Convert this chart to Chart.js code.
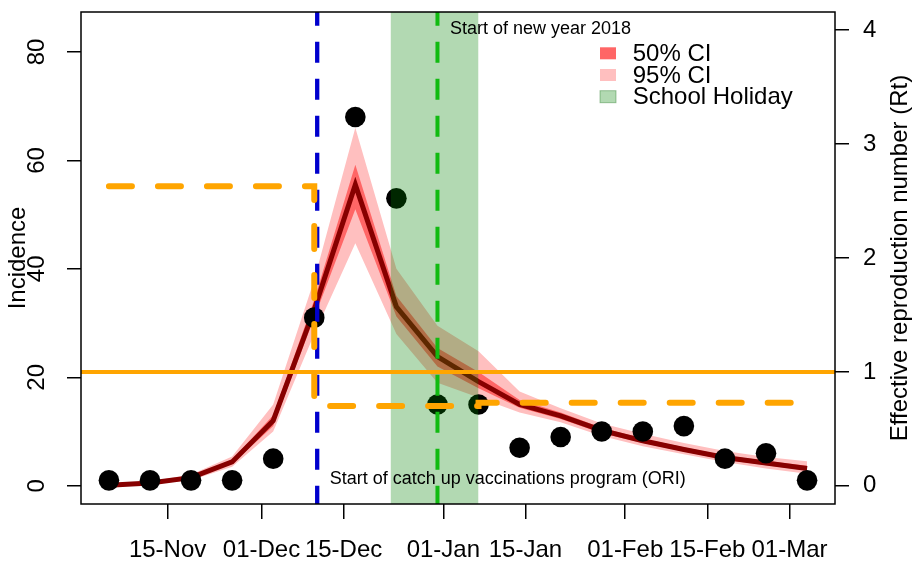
<!DOCTYPE html>
<html>
<head>
<meta charset="utf-8">
<script src="https://cdn.jsdelivr.net/npm/chart.js@4"></script>
<style>body{margin:0;background:#fff}</style>
</head>
<body>
<canvas id="rtChart" width="912" height="561"></canvas>
<script>
// weekly observed cases and model fit
const weekDates = ['2017-11-05', '2017-11-12', '2017-11-19', '2017-11-26', '2017-12-03', '2017-12-10',
  '2017-12-17', '2017-12-24', '2017-12-31', '2018-01-07', '2018-01-14', '2018-01-21',
  '2018-01-28', '2018-02-04', '2018-02-11', '2018-02-18', '2018-02-25', '2018-03-04'];
const incidence = [1, 1, 1, 1, 5, 31, 68, 53, 15, 15, 7, 9, 10, 10, 11, 5, 6, 1];
const modelMean = [0.1, 0.5, 1.5, 4.4, 12, 32.5, 55.5, 33, 23.8, 19.2, 15.0, 12.9, 10.2, 8.3, 6.7, 5.2, 4.2, 3.2];
const ci50Low  = [0.05, 0.4, 1.3, 4.0, 11, 31, 51, 31.2, 22, 18, 14.4, 12.3, 9.7, 7.9, 6.3, 4.8, 3.8, 2.8];
const ci50High = [0.15, 0.6, 1.7, 4.8, 13, 34.3, 59.2, 35, 25.4, 21, 15.8, 13.5, 10.7, 8.7, 7.1, 5.6, 4.6, 3.7];
const ci95Low  = [0.0, 0.3, 1.0, 3.5, 10, 28, 44.7, 28, 19, 16.3, 13.5, 11.7, 9.2, 7.3, 5.8, 4.4, 3.2, 2.2];
const ci95High = [0.3, 0.8, 2.1, 5.4, 15, 38, 66, 40, 29.5, 24.8, 17.4, 14.3, 11.5, 9.6, 7.9, 6.4, 5.3, 4.5];

// effective reproduction number (step changes)
const rtDates = ['2017-11-05', '2017-12-10', '2018-01-07', '2018-03-04'];
const rtValues = [2.63, 0.70, 0.73, 0.73];

const oriStart = '2017-12-10T12:00:00Z';
const newYear = '2017-12-31';
const holidayStart = '2017-12-23';
const holidayEnd = '2018-01-07';

const tickDates = ['2017-11-15', '2017-12-01', '2017-12-15', '2018-01-01', '2018-01-15', '2018-02-01', '2018-02-15', '2018-03-01'];
const tickLabels = ['15-Nov', '01-Dec', '15-Dec', '01-Jan', '15-Jan', '01-Feb', '15-Feb', '01-Mar'];
const incidenceTicks = [0, 20, 40, 60, 80];
const rtTicks = [0, 1, 2, 3, 4];
const legendLabels = ['50% CI', '95% CI', 'School Holiday'];

const FONT = '"Liberation Sans", Arial, Helvetica, sans-serif';
const origin = Date.parse('2017-11-15');
const day = s => (Date.parse(s) - origin) / 86400000;
// R style axis extension (4% each side)
const ext = (lo, hi) => { const p = (hi - lo) * 0.04; return [lo - p, hi + p]; };
const [xMin, xMax] = ext(day(weekDates[0]), day(weekDates[weekDates.length - 1]));
const [yMin, yMax] = ext(0, 84);
const [rMin, rMax] = ext(0, 4);

const pts = vals => vals.map((v, i) => ({x: day(weekDates[i]), y: v}));
// vertical marker, drawn top to bottom
const vline = d => [{x: day(d), y: yMax}, {x: day(d), y: yMin}];
const noLine = {borderWidth: 0, borderColor: 'rgba(0,0,0,0)', pointRadius: 0};

const col50 = '#ff6666', col95 = '#ffbfbf', colHoliday = 'rgba(0,128,0,0.3)';

// fix axis box sizes so the plot area sits where it does in the original
const fixSize = (w, h) => s => {
  if (w !== null) s.width = w;
  if (h !== null) s.height = h;
  s.paddingTop = s.paddingBottom = s.paddingLeft = s.paddingRight = 0;
};

Chart.defaults.font.family = FONT;
Chart.defaults.font.size = 24;
Chart.defaults.color = '#000';

const frame = {
  id: 'frame',
  afterDraw(chart) {
    const {ctx, chartArea: a, scales} = chart;
    ctx.save();
    ctx.strokeStyle = '#000';
    ctx.lineWidth = 1.5;
    ctx.strokeRect(a.left, a.top, a.right - a.left, a.bottom - a.top);

    ctx.fillStyle = '#000';
    ctx.textBaseline = 'middle';
    ctx.textAlign = 'left';
    ctx.font = '18px ' + FONT;
    ctx.fillText('Start of new year 2018', scales.x.getPixelForValue(day(newYear)) + 12.5, scales.y.getPixelForValue(84.2));
    ctx.fillText('Start of catch up vaccinations program (ORI)', scales.x.getPixelForValue(day(oriStart)) + 12.5, scales.y.getPixelForValue(1.3));

    // legend
    ctx.font = '24px ' + FONT;
    const lx = a.right - 235, ly = a.top + 41.3;
    [col50, col95, colHoliday].forEach((c, i) => {
      const y = ly + i * 21.7;
      ctx.fillStyle = c;
      ctx.fillRect(lx, y - 6, 16, 12);
      if (i === 2) {
        ctx.strokeStyle = 'rgba(0,100,0,0.35)';
        ctx.lineWidth = 1;
        ctx.strokeRect(lx, y - 6, 16, 12);
      }
      ctx.fillStyle = '#000';
      ctx.fillText(legendLabels[i], lx + 32.7, y + 1);
    });

    // right axis title, reading upwards
    ctx.translate(a.right + 65, (a.top + a.bottom) / 2);
    ctx.rotate(-Math.PI / 2);
    ctx.textAlign = 'center';
    ctx.fillText('Effective reproduction number (Rt)', 0, 0);
    ctx.restore();
  }
};

new Chart(document.getElementById('rtChart'), {
  type: 'line',
  data: {
    datasets: [
      {label: '95lo', data: pts(ci95Low), ...noLine, fill: false, order: 20},
      {label: '95% CI', data: pts(ci95High), ...noLine, fill: '-1', backgroundColor: col95, order: 19},
      {label: '50lo', data: pts(ci50Low), ...noLine, fill: false, order: 18},
      {label: '50% CI', data: pts(ci50High), ...noLine, fill: '-1', backgroundColor: col50, order: 17},
      {label: 'Model', data: pts(modelMean), borderColor: '#870000', borderWidth: 5, pointRadius: 0, order: 16},
      {label: 'Incidence', data: pts(incidence), showLine: false, pointRadius: 10.3,
        pointBackgroundColor: '#000', pointBorderWidth: 0, order: 15},
      {label: 'School Holiday', data: [{x: day(holidayStart), y: yMax}, {x: day(holidayEnd), y: yMax}],
        ...noLine, fill: 'start', backgroundColor: colHoliday, order: 14},
      {label: 'ORI', data: vline(oriStart), borderColor: '#0000cd', borderWidth: 4.3,
        borderDash: [21, 16], borderDashOffset: 7.3, pointRadius: 0, order: 13},
      {label: 'New year', data: vline(newYear), borderColor: '#11bb11', borderWidth: 4,
        borderDash: [21, 16], borderDashOffset: 7.3, pointRadius: 0, order: 12},
      {label: 'Rt = 1', yAxisID: 'y1', data: [{x: xMin, y: 1}, {x: xMax, y: 1}],
        borderColor: '#ffa500', borderWidth: 4, pointRadius: 0, order: 11},
      {label: 'Rt', yAxisID: 'y1', data: rtDates.map((d, i) => ({x: day(d), y: rtValues[i]})),
        stepped: true, borderColor: '#ffa500', borderWidth: 6, borderDash: [23, 26],
        borderCapStyle: 'round', pointRadius: 0, order: 10}
    ]
  },
  options: {
    responsive: false,
    devicePixelRatio: 1,
    animation: false,
    events: [],
    layout: {padding: {top: 12, left: 0, right: 0, bottom: 0}},
    plugins: {legend: {display: false}, tooltip: {enabled: false}},
    scales: {
      x: {
        type: 'linear', position: 'bottom', min: xMin, max: xMax,
        afterBuildTicks: s => { s.ticks = tickDates.map(d => ({value: day(d)})); },
        afterFit: fixSize(null, 57),
        ticks: {callback: (v, i) => tickLabels[i], padding: 17, maxRotation: 0, autoSkip: false},
        grid: {drawOnChartArea: false, tickLength: 15, color: '#000', lineWidth: 1.5},
        border: {display: false}
      },
      y: {
        type: 'linear', position: 'left', min: yMin, max: yMax,
        afterBuildTicks: s => { s.ticks = incidenceTicks.map(v => ({value: v})); },
        afterFit: fixSize(81, null),
        ticks: {minRotation: 90, maxRotation: 90, crossAlign: 'center', padding: 16},
        grid: {drawOnChartArea: false, tickLength: 14, color: '#000', lineWidth: 1.5},
        border: {display: false},
        title: {display: true, text: 'Incidence', padding: {top: 4, bottom: 0}}
      },
      y1: {
        type: 'linear', position: 'right', min: rMin, max: rMax,
        afterBuildTicks: s => { s.ticks = rtTicks.map(v => ({value: v})); },
        afterFit: fixSize(77, null),
        ticks: {padding: 14},
        grid: {drawOnChartArea: false, tickLength: 14, color: '#000', lineWidth: 1.5},
        border: {display: false}
      }
    }
  },
  plugins: [frame]
});
</script>
</body>
</html>
